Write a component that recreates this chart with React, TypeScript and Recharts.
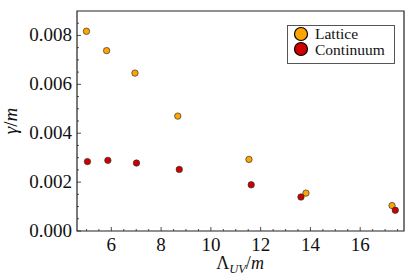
import React from 'react';
import { ScatterChart, Scatter, XAxis, YAxis, ReferenceArea } from 'recharts';

const latticeLambda = [5.0, 5.81, 6.95, 8.67, 11.53, 13.82, 17.28];
const latticeGamma = [0.00817, 0.00738, 0.00646, 0.0047, 0.00293, 0.00155, 0.00104];

const continuumLambda = [5.04, 5.86, 7.01, 8.73, 11.62, 13.62, 17.41];
const continuumGamma = [0.00284, 0.00289, 0.00278, 0.00252, 0.00189, 0.00139, 0.00085];

const majorXTicks = [6, 8, 10, 12, 14, 16];
const allXTicks = [5, 5.5, 6, 6.5, 7, 7.5, 8, 8.5, 9, 9.5, 10, 10.5, 11, 11.5, 12, 12.5, 13, 13.5, 14, 14.5, 15, 15.5, 16, 16.5, 17, 17.5];
const majorYTicks = [0, 0.002, 0.004, 0.006, 0.008];
const allYTicks = [0, 0.0005, 0.001, 0.0015, 0.002, 0.0025, 0.003, 0.0035, 0.004, 0.0045, 0.005, 0.0055, 0.006, 0.0065, 0.007, 0.0075, 0.008, 0.0085];

const xDomain = [4.62, 17.76];
const yDomain = [0, 0.009];

const latticeData = latticeLambda.map((x, i) => ({ x, y: latticeGamma[i] }));
const continuumData = continuumLambda.map((x, i) => ({ x, y: continuumGamma[i] }));

const W = 415;
const H = 277;
const PLOT_LEFT = 77;
const PLOT_BOTTOM = 231;
const serif = { fontFamily: "'Liberation Serif', serif" };
const INK = '#222';
const ORANGE = '#FFA500';
const RED = '#CC0000';

const isMajor = (list: number[], v: number) => list.some(t => Math.abs(t - v) < 1e-9);

const XTick = (props: any) => {
  const { x, payload } = props;
  const major = isMajor(majorXTicks, payload.value);
  return (
    <g>
      <line x1={x} x2={x} y1={PLOT_BOTTOM} y2={PLOT_BOTTOM - (major ? 4 : 2)} stroke={INK} strokeWidth={0.8} />
      {major && (
        <text x={x} y={PLOT_BOTTOM + 20} textAnchor="middle" style={serif} fontSize={19} fill="#111">
          {payload.value}
        </text>
      )}
    </g>
  );
};

const YTick = (props: any) => {
  const { y, payload } = props;
  const major = isMajor(majorYTicks, payload.value);
  return (
    <g>
      <line x1={PLOT_LEFT} x2={PLOT_LEFT + (major ? 4 : 2)} y1={y} y2={y} stroke={INK} strokeWidth={0.8} />
      {major && (
        <text x={PLOT_LEFT - 5} y={y + 6} textAnchor="end" style={serif} fontSize={19} fill="#111">
          {payload.value.toFixed(3)}
        </text>
      )}
    </g>
  );
};

const YLabel = () => (
  <text x={17} y={121} transform="rotate(-90 17 121)" textAnchor="middle" style={serif} fontSize={19} fill="#111">
    <tspan fontStyle="italic">γ</tspan>
    <tspan>/</tspan>
    <tspan fontStyle="italic">m</tspan>
  </text>
);

const XLabel = () => (
  <text x={240} y={269} textAnchor="middle" style={serif} fontSize={18} fill="#111">
    <tspan>Λ</tspan>
    <tspan fontStyle="italic" fontSize={12.5} dy={4}>UV</tspan>
    <tspan dy={-4}>/</tspan>
    <tspan fontStyle="italic">m</tspan>
  </text>
);

const dot = (color: string) => (props: any) => (
  <circle cx={props.cx} cy={props.cy} r={3.2} fill={color} stroke="#333" strokeWidth={0.7} />
);

const LegendBox = () => (
  <svg width={108} height={39} style={{ position: 'absolute', left: 287, top: 25, display: 'block' }}>
    <rect x={0.5} y={0.5} width={107} height={38} fill="#fff" stroke="#555" strokeWidth={1} />
    <circle cx={14} cy={9} r={6.5} fill={ORANGE} stroke="#000" strokeWidth={1.2} />
    <circle cx={14} cy={24} r={6.5} fill={RED} stroke="#000" strokeWidth={1.2} />
    <text x={28} y={14} style={serif} fontSize={15.5} fill="#111">Lattice</text>
    <text x={28} y={29.5} style={serif} fontSize={15.5} fill="#111">Continuum</text>
  </svg>
);

export default function App() {
  return (
    <div style={{ position: 'absolute', left: 0, top: 0, width: W, height: H, background: '#fff' }}>
      <ScatterChart width={W} height={H} margin={{ top: 11, right: 11, left: 0, bottom: 0 }}>
        <XAxis
          type="number"
          dataKey="x"
          domain={xDomain}
          ticks={allXTicks}
          interval={0}
          tick={<XTick />}
          tickLine={false}
          axisLine={false}
          height={46}
          allowDataOverflow
          label={<XLabel />}
        />
        <YAxis
          type="number"
          dataKey="y"
          domain={yDomain}
          ticks={allYTicks}
          interval={0}
          tick={<YTick />}
          tickLine={false}
          axisLine={false}
          width={77}
          allowDataOverflow
          label={<YLabel />}
        />
        <ReferenceArea
          x1={xDomain[0]}
          x2={xDomain[1]}
          y1={yDomain[0]}
          y2={yDomain[1]}
          fill="none"
          fillOpacity={0}
          stroke={INK}
          strokeWidth={1.2}
          ifOverflow="visible"
        />
        <Scatter name="Lattice" data={latticeData} fill={ORANGE} shape={dot(ORANGE)} isAnimationActive={false} />
        <Scatter name="Continuum" data={continuumData} fill={RED} shape={dot(RED)} isAnimationActive={false} />
      </ScatterChart>
      <LegendBox />
    </div>
  );
}
